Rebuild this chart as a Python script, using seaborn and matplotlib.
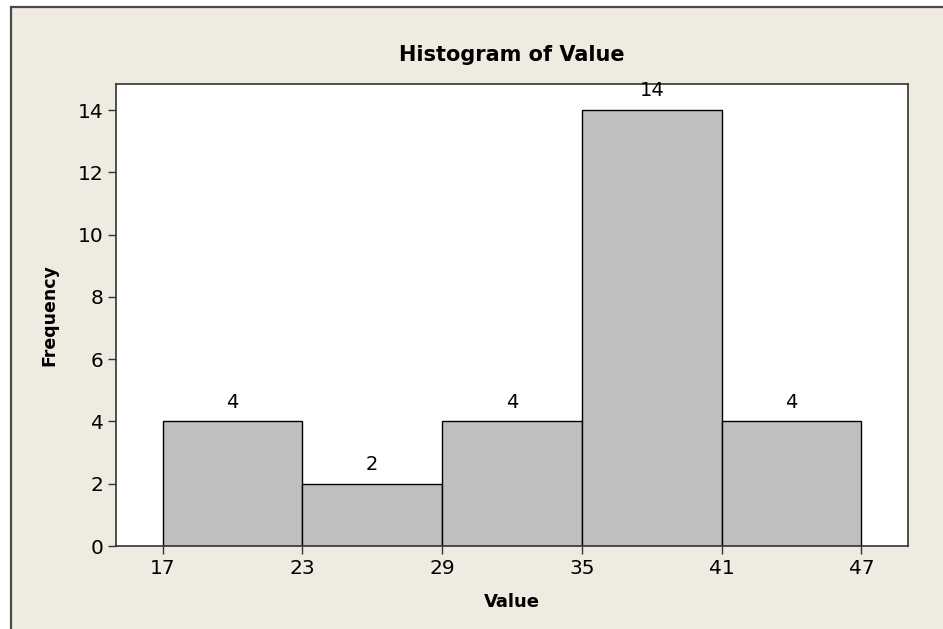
import numpy as np
import pandas as pd
import seaborn as sns
import matplotlib
import matplotlib.pyplot as plt
from matplotlib.patches import Rectangle

matplotlib.use('Agg')

# histogram data
bin_edges = [17, 23, 29, 35, 41, 47]
counts = [4, 2, 4, 14, 4]
tick_values = [17, 23, 29, 35, 41, 47]
y_ticks = [0, 2, 4, 6, 8, 10, 12, 14]

BEIGE = '#efebe1'

sns.set_style("ticks")
plt.rcParams['font.family'] = ['DejaVu Sans']
plt.rcParams['text.color'] = 'black'
plt.rcParams['axes.labelcolor'] = 'black'
plt.rcParams['xtick.color'] = 'black'
plt.rcParams['ytick.color'] = 'black'

mids = [(a + b) / 2 for a, b in zip(bin_edges[:-1], bin_edges[1:])]
df = pd.DataFrame({'Value': mids, 'count': counts})

fig = plt.figure(figsize=(9.43, 6.29), dpi=100, facecolor='white')

# Minitab-style outer frame (only left/top edges visible)
frame = Rectangle((11 / 943, -0.2), 1.3, 1.2 - 7 / 629, transform=fig.transFigure,
                  facecolor=BEIGE, edgecolor='#4a4a4a', linewidth=1.6, zorder=-10)
fig.add_artist(frame)

ax = fig.add_axes([116 / 943, 1 - 546 / 629, (908 - 116) / 943, (546 - 84) / 629])
ax.set_facecolor('white')

sns.histplot(data=df, x='Value', weights='count', bins=bin_edges, ax=ax,
             color='#c0c0c0', edgecolor='black', linewidth=1.0, alpha=1)

ax.bar_label(ax.containers[0], fontsize=14, padding=7)

ax.set_xlim(15, 49)
ax.set_ylim(0, 14.84)
ax.set_xticks(tick_values)
ax.set_yticks(y_ticks)
ax.tick_params(axis='both', labelsize=14.5, length=6, width=1, color='#333333', pad=3)

for s in ax.spines.values():
    s.set_visible(True)
    s.set_color('#333333')
    s.set_linewidth(1.2)

ax.set_xlabel('Value', fontsize=13, fontweight='bold', labelpad=11)
ax.set_ylabel('Frequency', fontsize=12.5, fontweight='bold', labelpad=14)
fig.text(512 / 943, 1 - 55 / 629, 'Histogram of Value', ha='center', va='center',
         fontsize=15, fontweight='bold')

fig.savefig('out.png', dpi=100, facecolor=fig.get_facecolor())
